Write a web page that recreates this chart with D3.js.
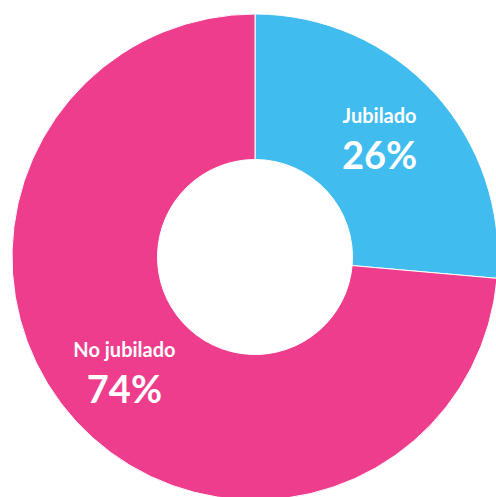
<!DOCTYPE html>
<html>
<head>
<meta charset="utf-8">
<script src="https://cdn.jsdelivr.net/npm/d3@7"></script>
<style>
  html, body { margin: 0; padding: 0; background: #fff; }
</style>
</head>
<body>
<div id="chart"></div>
<script>
// slice data
const categories = ['Jubilado', 'No jubilado']
const shares = [26.4, 73.6]
const colors = ['#41BCEF', '#EE3D8C']

const width = 496, height = 497
const cx = 255, cy = 257
const outerR = 243, innerR = 97.5

const rows = categories.map((c, i) => ({ name: c, value: shares[i], color: colors[i] }))

const svg = d3.select('#chart')
  .append('svg')
  .attr('width', width)
  .attr('height', height)

const g = svg.append('g')
  .attr('transform', 'translate(' + cx + ',' + cy + ')')

const pie = d3.pie()
  .sort(null)
  .value(d => d.value)

const arc = d3.arc()
  .innerRadius(innerR)
  .outerRadius(outerR)

const labelArc = d3.arc()
  .innerRadius(173)
  .outerRadius(173)

const slices = pie(rows)

g.selectAll('path')
  .data(slices)
  .enter().append('path')
  .attr('d', arc)
  .attr('fill', d => d.data.color)
  .attr('stroke', '#fff')
  .attr('stroke-width', 1)

const fmt = d3.format('.0f')

// labels sit a touch left of the true centroid in the original
const labels = g.selectAll('g.lbl')
  .data(slices)
  .enter().append('g')
  .attr('class', 'lbl')
  .attr('transform', d => {
    const c = labelArc.centroid(d)
    return 'translate(' + (c[0] - 3) + ',' + (c[1] + 1) + ')'
  })

labels.append('text')
  .attr('text-anchor', 'middle')
  .attr('y', -18)
  .attr('fill', '#fff')
  .style('font-family', 'Lato, "Open Sans", sans-serif')
  .style('font-weight', 'bold')
  .style('font-size', '20px')
  .text(d => d.data.name)

labels.append('text')
  .attr('text-anchor', 'middle')
  .attr('y', 28)
  .attr('fill', '#fff')
  .style('font-family', 'Lato, "Open Sans", sans-serif')
  .style('font-weight', 'bold')
  .style('font-size', '38px')
  .text(d => fmt(d.data.value) + '%')
</script>
</body>
</html>
